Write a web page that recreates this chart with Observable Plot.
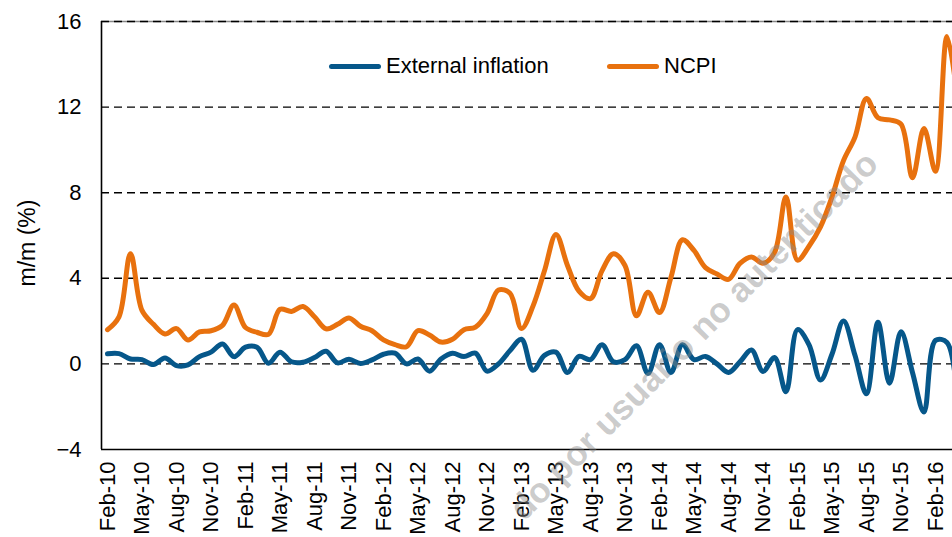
<!DOCTYPE html>
<html>
<head>
<meta charset="utf-8">
<script src="https://cdn.jsdelivr.net/npm/d3@7"></script>
<script src="https://cdn.jsdelivr.net/npm/@observablehq/plot@0.6"></script>
<style>
  html, body { margin: 0; padding: 0; background: #fff; overflow: hidden; }
  #wrap { position: relative; width: 952px; height: 537px; font-family: "Liberation Sans", Arial, sans-serif; }
  .leg { position: absolute; top: 51px; height: 30px; display: flex; align-items: center; font-size: 22px; color: #000; white-space: nowrap; }
  .sw { display: inline-block; width: 52px; height: 5px; border-radius: 3px; margin-right: 5px; }
  #ov { position: absolute; left: 0; top: 0; pointer-events: none; }
</style>
</head>
<body>
<div id="wrap"></div>
<script>
// Tick labels every 3 months, starting Feb-10 (month index 0)
const monthLabels = ["Feb-10","May-10","Aug-10","Nov-10","Feb-11","May-11","Aug-11","Nov-11",
  "Feb-12","May-12","Aug-12","Nov-12","Feb-13","May-13","Aug-13","Nov-13",
  "Feb-14","May-14","Aug-14","Nov-14","Feb-15","May-15","Aug-15","Nov-15","Feb-16"];

const seriesNames = ["External inflation", "NCPI"];
const seriesColors = ["#06578a", "#e8710e"];
const yLabel = "m/m (%)";
const watermark = "do por usuario no autenticado";

// Monthly m/m (%) values from Feb-10 (index 0) onward
const externalInflation = [
  0.47, 0.48, 0.23, 0.20, -0.03, 0.28, -0.08, -0.05, 0.34, 0.55, 0.93, 0.34,
  0.78, 0.78, 0.03, 0.55, 0.10, 0.08, 0.30, 0.59, 0.05, 0.22, 0.02, 0.19,
  0.45, 0.50, 0.00, 0.23, -0.34, 0.23, 0.50, 0.34, 0.50, -0.34, 0.00, 0.62,
  1.15, -0.30, 0.40, 0.55, -0.40, 0.35, 0.20, 0.90, 0.10, 0.20, 0.85, -0.45,
  0.90, -0.40, 0.90, 0.20, 0.35, 0.00, -0.40, 0.10, 0.65, -0.35, 0.30, -1.30,
  1.60, 0.90, -0.75, 0.45, 2.00, 0.40, -1.40, 1.95, -0.90, 1.50, -0.40, -2.25,
  1.10, 1.00, -2.20
];
const ncpi = [
  1.60, 2.20, 5.15, 2.50, 1.85, 1.40, 1.65, 1.12, 1.50, 1.55, 1.80, 2.75,
  1.70, 1.48, 1.38, 2.55, 2.45, 2.68, 2.20, 1.64, 1.85, 2.15, 1.76, 1.55,
  1.12, 0.90, 0.80, 1.55, 1.35, 1.02, 1.15, 1.60, 1.72, 2.35, 3.45, 3.30,
  1.65, 2.70, 4.35, 6.05, 4.60, 3.40, 3.05, 4.35, 5.15, 4.60, 2.25, 3.35,
  2.40, 4.05, 5.80, 5.30, 4.50, 4.20, 3.95, 4.70, 5.00, 4.70, 5.20, 7.80,
  4.85, 5.50, 6.40, 7.80, 9.50, 10.60, 12.40, 11.50, 11.40, 11.20, 8.70, 11.00,
  9.00, 15.30, 12.00
];
const yTicks = [-4, 0, 4, 8, 12, 16];

const rows = [];
externalInflation.forEach((v, i) => rows.push({i, v, s: seriesNames[0]}));
ncpi.forEach((v, i) => rows.push({i, v, s: seriesNames[1]}));

const xTicks = monthLabels.map((_, k) => k * 3);
const xDomain = [-0.52, 73.48];

const plot = Plot.plot({
  width: 952,
  height: 537,
  marginLeft: 101,
  marginRight: 0,
  marginTop: 21,
  marginBottom: 88,
  style: { fontFamily: "Liberation Sans, Arial, sans-serif", fontSize: "22px", color: "#000", background: "#fff" },
  x: { type: "linear", domain: xDomain },
  y: { domain: [-4, 16] },
  color: { domain: seriesNames, range: seriesColors },
  marks: [
    Plot.ruleY([16], { stroke: "#888", strokeWidth: 1.5 }),
    Plot.ruleY(yTicks.filter(d => d > -4), { stroke: "#000", strokeWidth: 1.4, strokeDasharray: "8,5" }),
    Plot.ruleY([-4], { stroke: "#000", strokeWidth: 1.6 }),
    Plot.ruleX([xDomain[0]], { stroke: "#000", strokeWidth: 1.6 }),
    Plot.line(rows, { x: "i", y: "v", z: "s", stroke: "s", strokeWidth: 5, curve: "catmull-rom", clip: true, strokeLinecap: "round", strokeLinejoin: "round" }),
    Plot.axisY({ ticks: yTicks, tickSize: 0, tickPadding: 20, fontSize: 22, label: null }),
    Plot.axisX({ ticks: xTicks, tickFormat: d => monthLabels[d / 3], tickSize: 0, tickPadding: 12, tickRotate: -90, fontSize: 22, label: null })
  ]
});

const wrap = document.getElementById("wrap");
wrap.appendChild(plot);

// Legend
seriesNames.forEach((name, k) => {
  const item = document.createElement("div");
  item.className = "leg";
  item.style.left = (k === 0 ? 329 : 607) + "px";
  const sw = document.createElement("span");
  sw.className = "sw";
  sw.style.background = seriesColors[k];
  item.appendChild(sw);
  item.appendChild(document.createTextNode(name));
  wrap.appendChild(item);
});

// Overlay: y-axis title and watermark
const ov = d3.select(wrap).append("svg").attr("id", "ov").attr("width", 952).attr("height", 537);
ov.append("text")
  .attr("transform", "translate(35,243) rotate(-90)")
  .attr("text-anchor", "middle")
  .attr("font-family", "Liberation Sans, Arial, sans-serif")
  .attr("font-size", 23)
  .attr("fill", "#000")
  .text(yLabel);
ov.append("text")
  .attr("transform", "translate(880,166) rotate(-45)")
  .attr("text-anchor", "end")
  .attr("font-family", "Liberation Sans, Arial, sans-serif")
  .attr("font-weight", "bold")
  .attr("font-size", 35)
  .attr("fill", "rgba(140,140,140,0.45)")
  .text(watermark);
</script>
</body>
</html>
